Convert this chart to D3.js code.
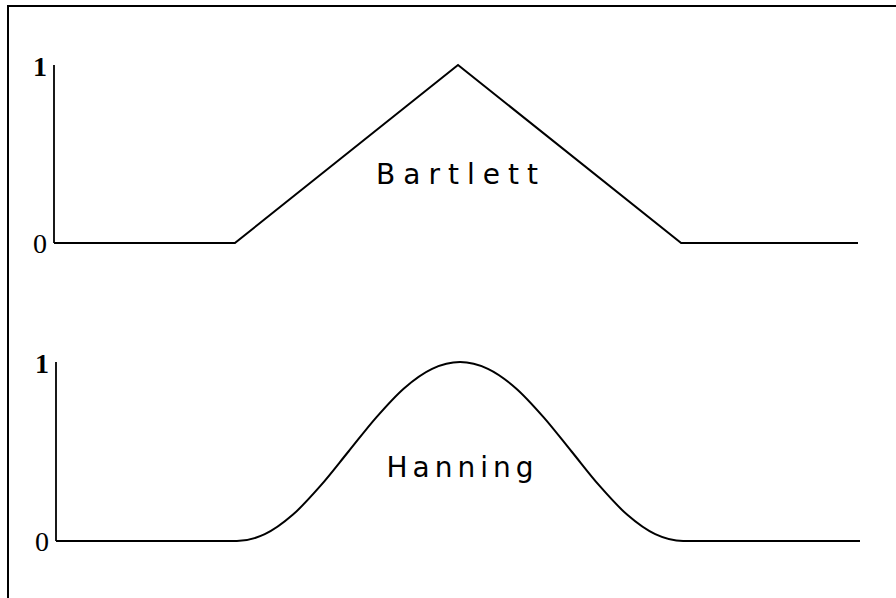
<!DOCTYPE html>
<html><head><meta charset="utf-8">
<script src="https://cdn.jsdelivr.net/npm/d3@7"></script>
<style>body{margin:0;background:#fff}svg{display:block}</style>
</head><body>
<script>
// Data, x in fraction of axis width, y in window amplitude
const bartlettX = [0, 0.225, 0.5025, 0.78, 1];
const bartlettY = [0, 0, 1, 0, 0];
const hanningX = [0, 0.225, 0.2597, 0.2944, 0.3291, 0.3638, 0.3984, 0.4331, 0.4678, 0.5025, 0.5372, 0.5719, 0.6066, 0.6413, 0.6759, 0.7106, 0.7453, 0.78, 1];
const hanningY = [0, 0, 0.038, 0.146, 0.309, 0.5, 0.691, 0.854, 0.962, 1, 0.962, 0.854, 0.691, 0.5, 0.309, 0.146, 0.038, 0, 0];
const tickLabels = ["0", "1"];
const panelNames = ["Bartlett", "Hanning"];

const W = 896, H = 598;
const svg = d3.select("body").append("svg").attr("width", W).attr("height", H);

// frame
svg.append("path").attr("d", "M8,598 L8,6 L896,6").attr("fill", "none").attr("stroke", "#000").attr("stroke-width", 2);

const panels = [
  {name: panelNames[0], xs: bartlettX, ys: bartlettY, x0: 54, x1: 858, yTop: 65, yBase: 243, labelX: 457, labelY: 184, ls: 8, curve: d3.curveLinear},
  {name: panelNames[1], xs: hanningX, ys: hanningY, x0: 56, x1: 860, yTop: 362, yBase: 541, labelX: 460, labelY: 477, ls: 5, curve: d3.curveMonotoneX}
];

panels.forEach(p => {
  const x = d3.scaleLinear().domain([0, 1]).range([p.x0, p.x1]);
  const y = d3.scaleLinear().domain([0, 1]).range([p.yBase, p.yTop]);
  const g = svg.append("g");
  // y axis line
  g.append("line").attr("x1", x(0)).attr("x2", x(0)).attr("y1", y(1)).attr("y2", y(0))
    .attr("stroke", "#000").attr("stroke-width", 1.8);
  // tick labels
  [0, 1].forEach(v => {
    g.append("text").attr("x", x(0) - 7).attr("y", y(v) + (v === 0 ? 10 : 11))
      .attr("text-anchor", "end").attr("font-family", "Liberation Serif")
      .attr("font-size", 28).attr("font-weight", v === 1 ? "bold" : "normal")
      .text(tickLabels[v]);
  });
  const data = p.xs.map((d, i) => [d, p.ys[i]]);
  g.append("path").datum(data)
    .attr("d", d3.line().x(d => x(d[0])).y(d => y(d[1])).curve(p.curve))
    .attr("fill", "none").attr("stroke", "#000").attr("stroke-width", 2);
  g.append("text").attr("x", p.labelX + p.ls / 2).attr("y", p.labelY).attr("text-anchor", "middle")
    .attr("font-family", "DejaVu Sans").attr("font-size", 28).attr("letter-spacing", p.ls)
    .text(p.name);
});
</script>
</body></html>
